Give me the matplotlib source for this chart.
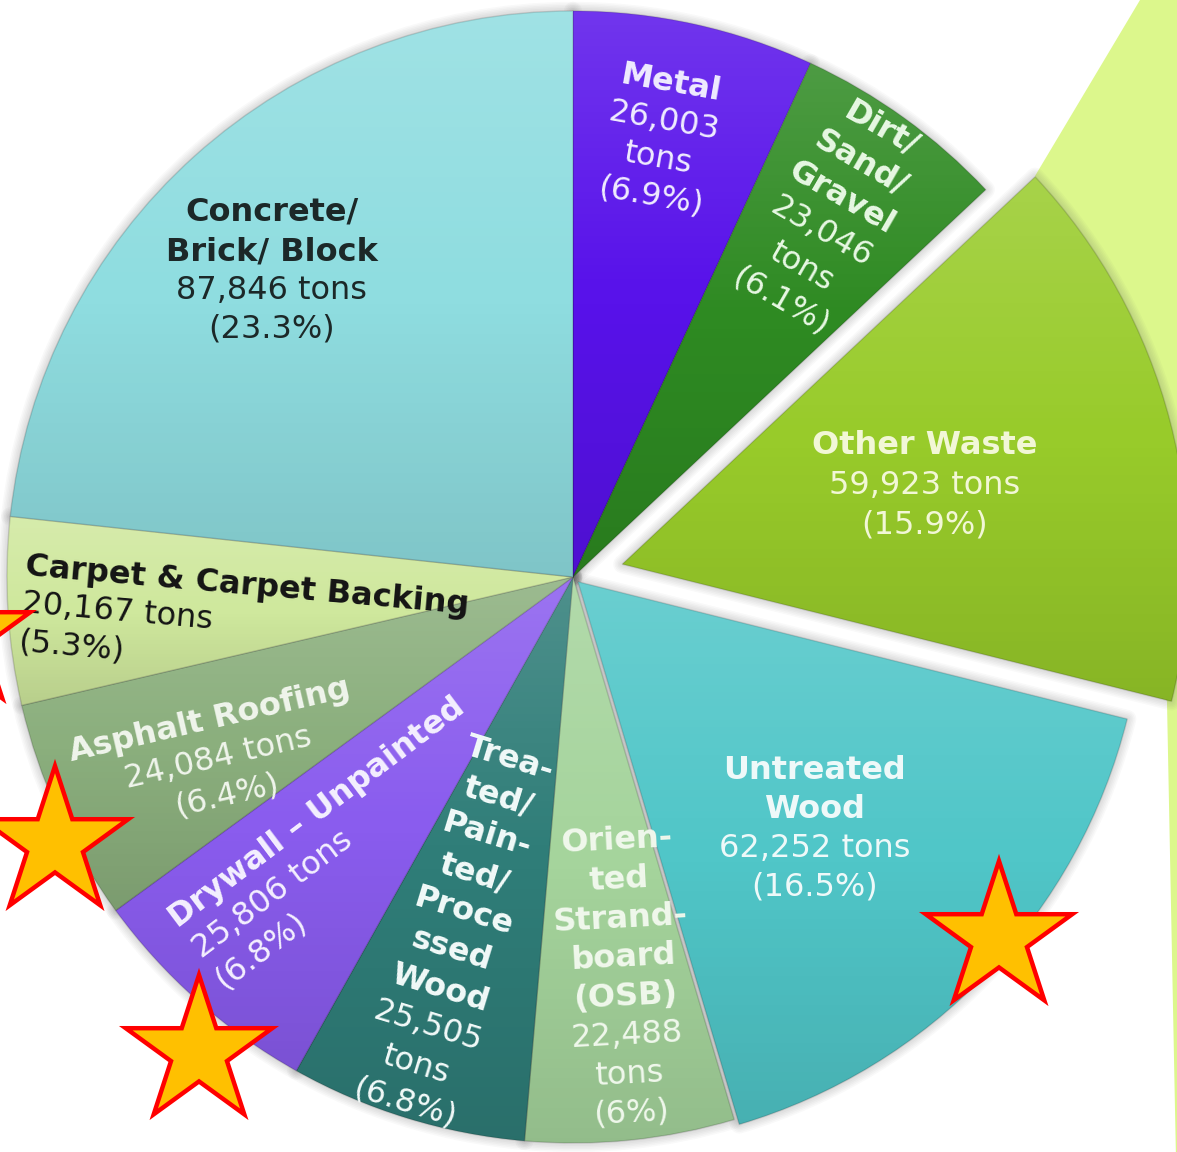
import numpy as np
import matplotlib
matplotlib.use("Agg")
import matplotlib.pyplot as plt
from matplotlib.path import Path
from matplotlib.patches import PathPatch, Polygon, Wedge
from matplotlib.transforms import Affine2D

# ---------------- data ----------------
categories = ["Metal", "Dirt/ Sand/ Gravel", "Other Waste", "Untreated Wood",
              "Oriented Strandboard (OSB)", "Treated/ Painted/ Processed Wood",
              "Drywall – Unpainted", "Asphalt Roofing", "Carpet & Carpet Backing",
              "Concrete/ Brick/ Block"]
tons = [26003, 23046, 59923, 62252, 22488, 25505, 25806, 24084, 20167, 87846]
pct_labels = ["6.9%", "6.1%", "15.9%", "16.5%", "6%", "6.8%", "6.8%", "6.4%", "5.3%", "23.3%"]

# ---------------- style ----------------
colors = ['#5812EA', '#2E8A22', '#98CB2A', '#50C6C8', '#A5D49C',
          '#2F7D78', '#8A5CEE', '#8BAF7D', '#CFE89D', '#8FDDE0']
explode = [0, 0, 51, 7, 0, 0, 0, 0, 0, 0]

W, H = 1177, 1152
fig = plt.figure(figsize=(W / 100, H / 100), dpi=100)
ax = fig.add_axes([0, 0, 1, 1])
ax.set_axis_off()

def P(x, y):  # image pixel coords -> data coords
    return x, H - y

center = P(573, 577)
R = 566

# light green connector band (pie-of-pie connector) behind the exploded slice
band = Polygon([P(1035, 176), P(1143, -5), P(1190, -5), P(1190, 1160),
                P(1176, 1160), P(1167, 702)], closed=True,
               facecolor='#DCF78C', edgecolor='none', zorder=0)
ax.add_patch(band)

wedges, _ = ax.pie(tons, colors=colors, startangle=90, counterclock=False,
                   radius=R, center=center, explode=explode,
                   wedgeprops=dict(edgecolor=(0, 0, 0, 0.15), linewidth=1.0))

# soft shadow behind wedges
for w in wedges:
    for k in range(1, 7):
        sh = Wedge(w.center, w.r, w.theta1, w.theta2, facecolor='none',
                   edgecolor=(0.35, 0.35, 0.35, 0.035), linewidth=2.2 * k,
                   zorder=0.5, joinstyle='round')
        ax.add_patch(sh)

# subtle gradient shading on each wedge
grad = np.zeros((64, 1, 4))
t = np.linspace(0, 1, 64)  # 0 bottom .. 1 top
for i, tt in enumerate(t):
    if tt > 0.5:
        grad[i, 0] = [1, 1, 1, (tt - 0.5) * 0.30]
    else:
        grad[i, 0] = [0, 0, 0, (0.5 - tt) * 0.22]
for w in wedges:
    bb = w.get_path().get_extents()
    im = ax.imshow(grad, extent=[bb.x0, bb.x1, bb.y0, bb.y1], origin='lower',
                   aspect='auto', interpolation='bilinear', zorder=w.get_zorder() + 0.1)
    im.set_clip_path(w)

FS = 23

def place(lines, x, y, rot=0, spacing=39, color='white', ha='center'):
    n = len(lines)
    r = np.deg2rad(rot)
    dx, dy = np.sin(r), np.cos(r)  # text "down" direction in image coords
    for i, (txt, bold) in enumerate(lines):
        d = (i - (n - 1) / 2) * spacing
        px, py = x + d * dx, y + d * dy
        ax.text(*P(px, py), txt, ha=ha, va='center', rotation=rot,
                rotation_mode='anchor', fontsize=FS, color=color,
                fontweight='bold' if bold else 'normal',
                family='DejaVu Sans', zorder=10)

def fmt(v):
    return f"{v:,}"

# Concrete
place([("Concrete/", True), ("Brick/ Block", True),
       (fmt(tons[9]) + " tons", False), ("(" + pct_labels[9] + ")", False)],
      272, 271, 0, 39, '#1C2828')
# Metal
place([("Metal", True), (fmt(tons[0]), False), ("tons", False),
       ("(" + pct_labels[0] + ")", False)], 661, 140, -10, 38, '#F0ECFF')
# Dirt
place([("Dirt/", True), ("Sand/", True), ("Gravel", True), (fmt(tons[1]), False),
       ("tons", False), ("(" + pct_labels[1] + ")", False)], 831, 215, -30, 40, '#E8F8E4')
# Other Waste
place([("Other Waste", True), (fmt(tons[2]) + " tons", False),
       ("(" + pct_labels[2] + ")", False)], 925, 485, 0, 40, '#F2F7D6')
# Untreated Wood
place([("Untreated", True), ("Wood", True), (fmt(tons[3]) + " tons", False),
       ("(" + pct_labels[3] + ")", False)], 815, 829, 0, 39, '#EEF9F9')
# OSB
place([("Orien-", True), ("ted", True), ("Strand-", True), ("board", True),
       ("(OSB)", True), (fmt(tons[4]), False), ("tons", False),
       ("(" + pct_labels[4] + ")", False)], 624, 977, 3, 39, '#F0F8EC')
# Treated
place([("Trea-", True), ("ted/", True), ("Pain-", True), ("ted/", True),
       ("Proce", True), ("ssed", True), ("Wood", True), (fmt(tons[5]), False),
       ("tons", False), ("(" + pct_labels[5] + ")", False)], 457, 931, -17, 40, '#F2FAF9')
# Drywall
place([("Drywall – Unpainted", True), (fmt(tons[6]) + " tons", False),
       ("(" + pct_labels[6] + ")", False)], 196, 952, 37, 38, '#F4F0FF', ha='left')
# Asphalt
place([("Asphalt Roofing", True), (fmt(tons[7]) + " tons", False),
       ("(" + pct_labels[7] + ")", False)], 218, 758, 13, 38, '#F0F5EC')
# Carpet
place([("Carpet & Carpet Backing", True), (fmt(tons[8]) + " tons", False),
       ("(" + pct_labels[8] + ")", False)], 22, 604, -5, 38, '#141414', ha='left')

# star annotations
star_path = Path.unit_regular_star(5, 0.381966)
for (sx, sy) in [(-43, 636), (55, 843), (199, 1052), (999, 938)]:
    tr = Affine2D().scale(77).translate(*P(sx, sy)) + ax.transData
    ax.add_patch(PathPatch(star_path, transform=tr, facecolor='#FFC000',
                           edgecolor='#FF0000', linewidth=3.2, zorder=20))

ax.set_xlim(0, W)
ax.set_ylim(0, H)
ax.set_aspect('auto')
fig.savefig("out.png", dpi=100, facecolor='white')
